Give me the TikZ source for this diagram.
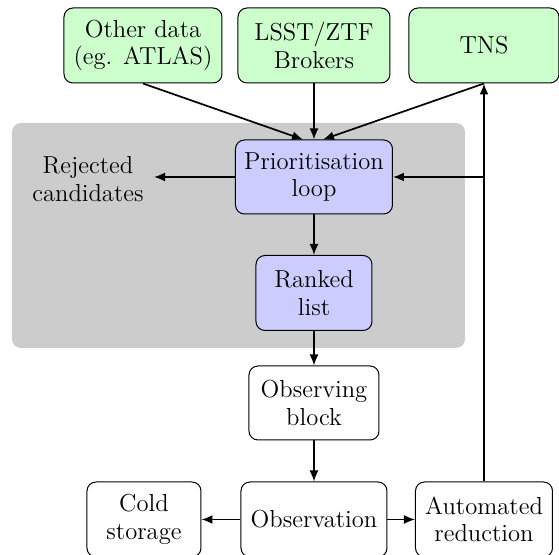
\documentclass[tikz,border=0pt]{standalone}
\usepackage{fontspec}
\usetikzlibrary{arrows.meta}

\definecolor{feedGreen}{HTML}{CCFFCC}
\definecolor{loopBlue}{HTML}{CCCCFF}
\definecolor{loopGray}{HTML}{CCCCCC}

\begin{document}
\begin{tikzpicture}
[x=0.5pt,y=-0.5pt,%
  textDecorate/.style={align=center,font=\fontsize{12.3}{13.8}\selectfont},%
  boxDecorate/.style={textDecorate,shape=rectangle,rounded corners=4.5pt,draw,
    line width=0.5pt,minimum height=37.5pt,inner sep=2pt},%
  feedDecorate/.style={boxDecorate,fill=feedGreen},%
  loopDecorate/.style={boxDecorate,fill=loopBlue},%
  plainDecorate/.style={boxDecorate,fill=white},%
  arrowDecorate/.style={-{Latex[length=5.5pt,width=4.5pt]},line width=0.85pt}]
\useasboundingbox (0,0) rectangle (559,555);
%% background of the loop
\fill[loopGray,rounded corners=4.5pt] (12,123) rectangle (465,348);
%% data feeds
\node (other) at (143,45.5) [feedDecorate,minimum width=79pt] {Other data\\(eg. ATLAS)};
\node (brokers) at (314,45.5) [feedDecorate,minimum width=76pt] {LSST/ZTF\\Brokers};
\node (tns) at (484,45.5) [feedDecorate,minimum width=75pt] {TNS};
%% prioritisation
\node (prio) at (314,177) [loopDecorate,minimum width=78.5pt,minimum height=37pt] {Prioritisation\\loop};
\node (rejected) at (88,179) [textDecorate,inner sep=5pt] {Rejected\\candidates};
\node (ranked) at (314,293) [loopDecorate,minimum width=58pt] {Ranked\\list};
%% observing
\node (block) at (314,403) [plainDecorate,minimum width=65pt,minimum height=37pt] {Observing\\block};
\node (observation) at (314,519.5) [plainDecorate,minimum width=73pt] {Observation};
\node (cold) at (144,519.5) [plainDecorate,minimum width=57pt] {Cold\\storage};
\node (auto) at (484,519.5) [plainDecorate,minimum width=68.5pt] {Automated\\reduction};
\coordinate (turn) at (auto.north |- prio.east);
%% edges
\draw[arrowDecorate] (other.south) -- ([xshift=-5.5pt]prio.north);
\draw[arrowDecorate] (brokers.south) -- (prio.north);
\draw[arrowDecorate] (tns.south) -- ([xshift=4.5pt]prio.north);
\draw[arrowDecorate] (auto.north) -- (tns.south);
\draw[arrowDecorate] (turn) -- (prio.east);
\draw[arrowDecorate] (prio.west) -- (prio.west -| rejected.east);
\draw[arrowDecorate] (prio) -- (ranked);
\draw[arrowDecorate] (ranked) -- (block);
\draw[arrowDecorate] (block) -- (observation);
\draw[arrowDecorate] (observation) -- (cold);
\draw[arrowDecorate] (observation) -- (auto);
\end{tikzpicture}
\end{document}
